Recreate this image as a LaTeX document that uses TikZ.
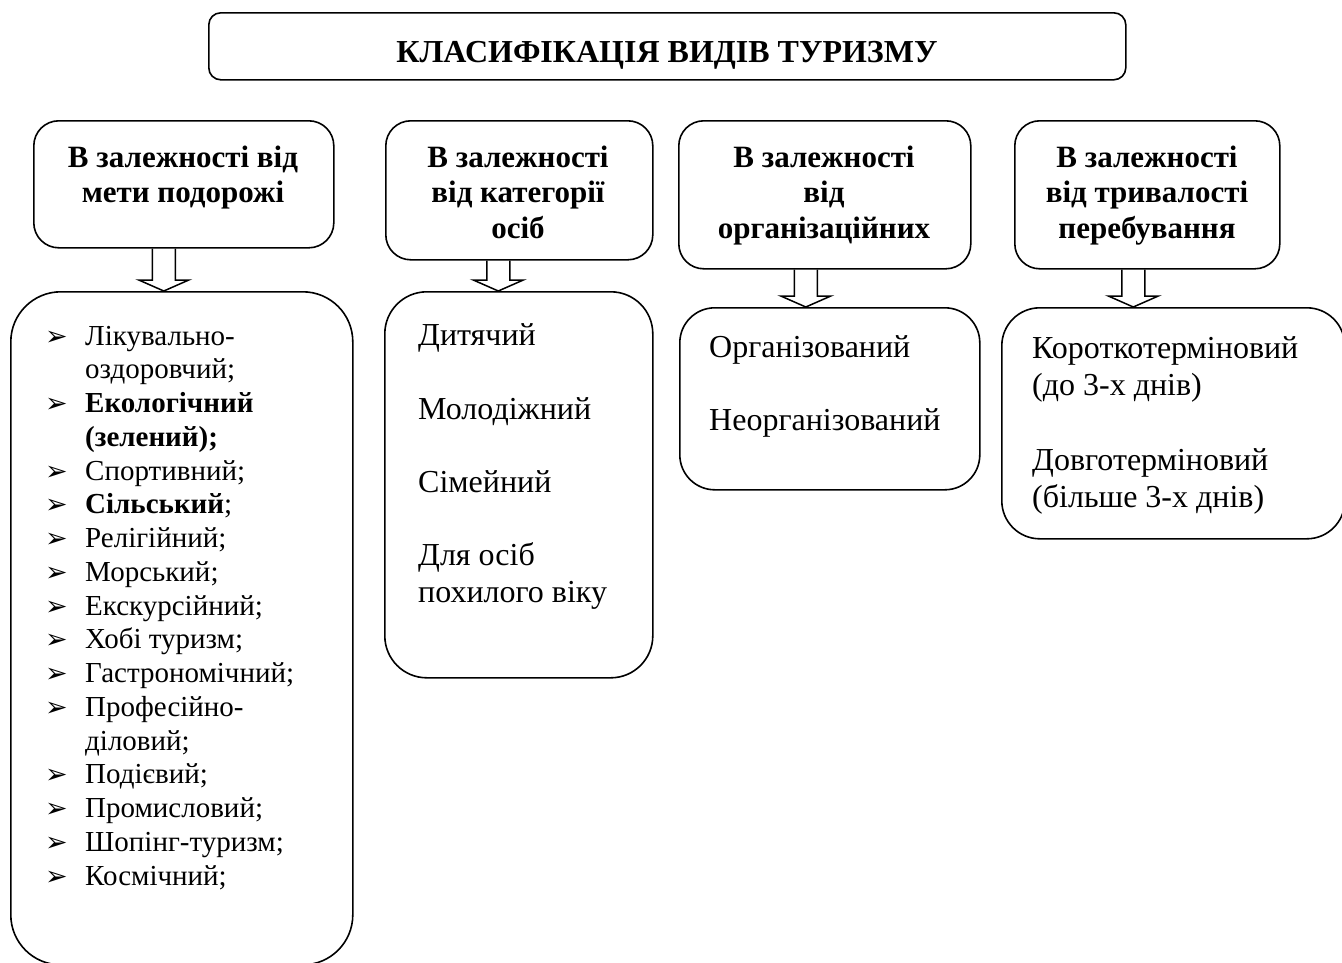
\documentclass[tikz,border=0pt]{standalone}
\usepackage{fontspec}
\setmainfont{Liberation Serif}
\newfontfamily\symfont{DejaVu Sans}
\usetikzlibrary{calc}
\tikzset{
  boxshape/.style={draw, line width=1.6pt, anchor=north west, inner sep=0pt, rectangle},
  arrowline/.style={draw, line width=1.5pt, line join=miter},
  listtxt/.style={inner sep=0pt, anchor=base west, font=\fontsize{29}{33}\selectfont},
  txt/.style={inner sep=0pt, anchor=base west, font=\fontsize{32}{36}\selectfont},
  hdr/.style={inner sep=0pt, anchor=base, font=\bfseries\fontsize{31}{35}\selectfont},
  bul/.style={inner sep=0pt, anchor=base west, font=\symfont\fontsize{27}{27}\selectfont},
}
\newcommand\hollowarrow[3]{%
  \draw[arrowline] let \p1=(#1.south), \p2=(#2.north) in
    (\x1+#3pt-11.5pt,\y1) -- (\x1+#3pt-11.5pt,\y2+11pt) -- (\x1+#3pt-25pt,\y2+11pt)
    -- (\x1+#3pt,\y2) -- (\x1+#3pt+25pt,\y2+11pt) -- (\x1+#3pt+11.5pt,\y2+11pt)
    -- (\x1+#3pt+11.5pt,\y1);
}
\begin{document}
\begin{tikzpicture}[x=1pt,y=-1pt]
\useasboundingbox (0,0) rectangle (1342,962);
\clip (0,0) rectangle (1342,962);

% title
\node[boxshape, rounded corners=12pt, minimum width=917pt, minimum height=67pt] (title) at (208,12) {};
\node[hdr, font=\bfseries\fontsize{32}{36}\selectfont] (titletext) at (667,62) {КЛАСИФІКАЦІЯ ВИДІВ ТУРИЗМУ};

% headers
\node[boxshape, rounded corners=25pt, minimum width=300pt, minimum height=127pt] (h1) at (33,120) {};
\node[boxshape, rounded corners=25pt, minimum width=267pt, minimum height=139pt] (h2) at (385,120) {};
\node[boxshape, rounded corners=25pt, minimum width=292pt, minimum height=148pt] (h3) at (678,120) {};
\node[boxshape, rounded corners=25pt, minimum width=265pt, minimum height=148pt] (h4) at (1014,120) {};

\node[hdr] (h1a) at (183,167) {В залежності від};
\node[hdr] (h1b) at (183,202) {мети подорожі};
\node[hdr] (h2a) at (518,167) {В залежності};
\node[hdr] (h2b) at (518,202) {від категорії};
\node[hdr] (h2c) at (518,238) {осіб};
\node[hdr] (h3a) at (824,167) {В залежності};
\node[hdr] (h3b) at (824,202) {від};
\node[hdr] (h3c) at (824,238) {організаційних};
\node[hdr] (h4a) at (1147,167) {В залежності};
\node[hdr] (h4b) at (1147,202) {від тривалості};
\node[hdr] (h4c) at (1147,238) {перебування};

% content boxes
\node[boxshape, rounded corners=50pt, minimum width=342pt, minimum height=673pt] (c1) at (10,291) {};
\node[boxshape, rounded corners=42pt, minimum width=268pt, minimum height=386pt] (c2) at (384,291) {};
\node[boxshape, rounded corners=35pt, minimum width=300pt, minimum height=182pt] (c3) at (679,307) {};
\node[boxshape, rounded corners=38pt, minimum width=343pt, minimum height=231pt] (c4) at (1001,307) {};

% arrows
\hollowarrow{h1}{c1}{-20}
\hollowarrow{h2}{c2}{-21}
\hollowarrow{h3}{c3}{-19}
\hollowarrow{h4}{c4}{-14}

% list in box 1
\foreach \i/\t in {0/{Лікувально-}, 1/{оздоровчий;}, 2/{\textbf{Екологічний}}, 3/{\textbf{(зелений);}},
  4/{Спортивний;}, 5/{\textbf{Сільський};}, 6/{Релігійний;}, 7/{Морський;}, 8/{Екскурсійний;},
  9/{Хобі туризм;}, 10/{Гастрономічний;}, 11/{Професійно-}, 12/{діловий;}, 13/{Подієвий;},
  14/{Промисловий;}, 15/{Шопінг-туризм;}, 16/{Космічний;}}
  \node[listtxt] (m\i) at (85,{345+\i*33.75}) {\t};
\foreach \i in {0,2,4,5,6,7,8,9,10,11,13,14,15,16}
  \node[bul] (b\i) at (45,{345+\i*33.75}) {➢};

% box 2
\node[txt] (k1) at (418,345) {Дитячий};
\node[txt] (k2) at (418,419) {Молодіжний};
\node[txt] (k3) at (418,492) {Сімейний};
\node[txt] (k4) at (418,565) {Для осіб};
\node[txt] (k5) at (418,602) {похилого віку};

% box 3
\node[txt] (o1) at (709,357) {Організований};
\node[txt] (o2) at (709,430) {Неорганізований};

% box 4
\node[txt] (t1) at (1032,358) {Короткотерміновий};
\node[txt] (t2) at (1032,395) {(до 3-х днів)};
\node[txt] (t3) at (1032,470) {Довготерміновий};
\node[txt] (t4) at (1032,507) {(більше 3-х днів)};
\end{tikzpicture}
\end{document}
